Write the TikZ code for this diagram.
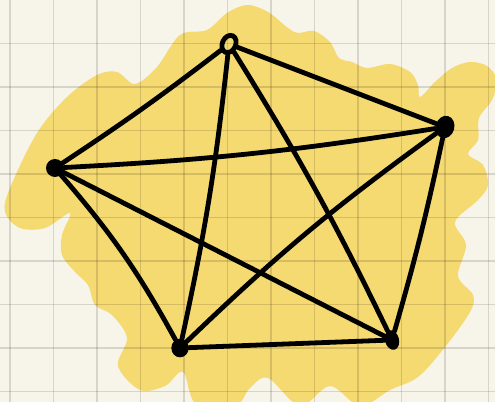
\documentclass[tikz,border=0pt]{standalone}
\usetikzlibrary{shapes.geometric}
\definecolor{paper}{HTML}{F7F5E9}
\definecolor{hilite}{HTML}{F5D971}
\tikzset{
  gridline/.style={black, opacity=0.13, line width=1.1pt},
  edge/.style={black, line width=3.6pt, line cap=round, line join=round},
  vdot/.style={ellipse, fill=black, inner sep=0pt},
  vring/.style={ellipse, draw=black, line width=3.6pt, inner sep=0pt, minimum width=10pt, minimum height=13.5pt},
}
\begin{document}
\begin{tikzpicture}[x=0.75pt, y=-0.75pt]
\useasboundingbox (0,0) rectangle (495,402);
\fill[paper] (0,0) rectangle (495,402);
% highlighter blob
\fill[hilite] plot[smooth cycle, tension=0.55] coordinates {
 (247,5) (268,12) (288,28) (298,33) (314,31) (330,42) (339,58) (352,62) (367,68)
 (390,64) (410,72) (418,85) (420,97) (435,82) (452,68) (470,62) (487,66) (497,80)
 (492,100) (479,118) (478,140) (468,154) (483,165) (488,185) (478,200) (455,222)
 (466,245) (458,276) (473,295) (470,312) (445,347) (418,377) (390,390) (360,406)
 (330,386) (300,406) (268,378) (250,388) (235,406) (196,404) (183,372) (165,386)
 (140,390) (118,366) (127,338) (112,315) (95,305) (88,285) (75,272) (62,255)
 (62,235) (70,213) (45,228) (20,228) (5,212) (10,188) (37,133) (67,97) (97,75)
 (117,72) (135,84) (157,67) (180,35) (207,30) (227,13)};
% grid
\foreach \i in {0,...,11} \draw[gridline] ({10+43.5*\i},0) -- ++(0,402);
\foreach \j in {1,...,9} \draw[gridline] (0,{43.5*\j}) -- ++(495,0);
% vertices
\node[vring, rotate=-25] (T) at (229,44) {};
\node[vdot, minimum width=13.5pt, minimum height=13.5pt] (L) at (55,168) {};
\node[vdot, minimum width=14pt, minimum height=17pt, rotate=-15] (R) at (445,127) {};
\node[vdot, minimum width=13pt, minimum height=14pt] (BL) at (180,348) {};
\node[vdot, minimum width=10.5pt, minimum height=15pt, rotate=15] (BR) at (392,340) {};
% edges
\draw[edge] (T) to[bend left=2] (L);
\draw[edge] (T) to (R);
\draw[edge] (T) to[bend left=3] (BL);
\draw[edge] (T) to[bend left=3] (BR);
\draw[edge] (L) to[bend right=3] (R);
\draw[edge] (L) to[bend left=6] (BL);
\draw[edge] (L) to (BR);
\draw[edge] (BL) to[bend left=4] (R);
\draw[edge] (BL) to (BR);
\draw[edge] (R) to[bend left=2] (BR);
\end{tikzpicture}
\end{document}
